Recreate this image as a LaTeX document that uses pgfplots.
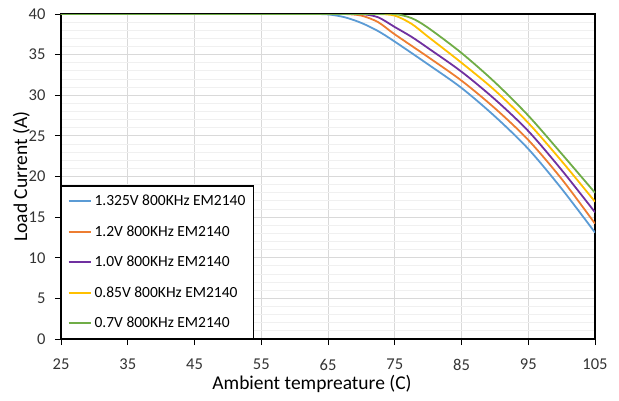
\documentclass[border=0pt]{standalone}
\usepackage{fontspec}
\setmainfont{Carlito}
\usepackage{pgfplots}
\pgfplotsset{compat=1.18}
\definecolor{cblue}{HTML}{5B9BD5}
\definecolor{corange}{HTML}{ED7D31}
\definecolor{cpurple}{HTML}{7030A0}
\definecolor{cyellow}{HTML}{FFC000}
\definecolor{cgreen}{HTML}{70AD47}
\begin{document}
\begin{tikzpicture}
\begin{axis}[
  scale only axis,
  width=534pt, height=325pt,
  xmin=25, xmax=105, ymin=0, ymax=40,
  xtick={25,35,...,105}, ytick={0,5,...,40},
  minor y tick num=4,
  grid=both,
  major grid style={draw=black!15, line width=0.8pt},
  minor grid style={draw=black!6, line width=0.8pt},
  axis line style={black, line width=1.2pt},
  tick style={black, line width=0.8pt},
  major tick length=6pt, minor tick length=0pt,
  tick align=outside,
  xtick pos=bottom, ytick pos=left,
  /pgf/number format/assume math mode=true,
  ticklabel style={font=\fontsize{16.5}{18}\selectfont, text=black!80},
  xticklabel style={yshift=-14pt, inner sep=0pt, text depth=0pt},
  yticklabel style={xshift=-6pt},
  xlabel={Ambient tempreature (C)},
  ylabel={Load Current (A)},
  label style={font=\fontsize{19.5}{21}\selectfont},
  xlabel style={at={(axis description cs:0.47,0)}, anchor=north, yshift=-36pt, inner sep=0pt},
  ylabel style={yshift=-8pt},
  legend cell align=left,
  legend image code/.code={\draw[#1, line width=2pt] (0pt,0pt) -- (22pt,0pt);},
  legend style={at={(0,0)}, anchor=south west, draw=black, line width=1.2pt,
    font=\fontsize{15.5}{16}\selectfont, row sep=14.5pt, inner xsep=6pt, inner ysep=7pt,
    /tikz/every even column/.append style={column sep=2pt},
    /tikz/every odd column/.append style={column sep=1pt}},
  every axis plot/.append style={line width=1.8pt, smooth, no markers},
]
\addplot[cblue] coordinates {(25,40)(35,40)(45,40)(55,40)(60,40)(62.5,40)(65,39.95)(67.5,39.6)(70,38.9)(72.5,37.9)(75,36.6)(80,33.8)(85,30.9)(90,27.4)(95,23.4)(100,18.5)(105,13.1)};
\addlegendentry{1.325V 800KHz EM2140}
\addplot[corange] coordinates {(25,40)(35,40)(45,40)(55,40)(62.5,40)(65,40)(67.5,40)(70,39.8)(72.5,39.0)(75,37.5)(80,34.7)(85,31.8)(90,28.4)(95,24.5)(100,19.7)(105,14.2)};
\addlegendentry{1.2V 800KHz EM2140}
\addplot[cpurple] coordinates {(25,40)(35,40)(45,40)(55,40)(65,40)(67.5,40)(70,40)(72.5,39.6)(75,38.4)(77.5,37.2)(80,35.8)(85,32.9)(90,29.5)(95,25.6)(100,20.8)(105,15.6)};
\addlegendentry{1.0V 800KHz EM2140}
\addplot[cyellow] coordinates {(25,40)(35,40)(45,40)(55,40)(65,40)(70,40)(72.5,40)(75,39.8)(77.5,38.8)(80,37.2)(85,34.0)(90,30.6)(95,26.6)(100,21.9)(105,16.9)};
\addlegendentry{0.85V 800KHz EM2140}
\addplot[cgreen] coordinates {(25,40)(35,40)(45,40)(55,40)(65,40)(70,40)(72.5,40)(75,40)(77.5,39.5)(80,38.3)(85,35.2)(90,31.6)(95,27.5)(100,22.8)(105,18.0)};
\addlegendentry{0.7V 800KHz EM2140}
\end{axis}
\pgfresetboundingbox
\path[use as bounding box] (-61pt,-61pt) rectangle (558pt,339pt);
\end{tikzpicture}
\end{document}
